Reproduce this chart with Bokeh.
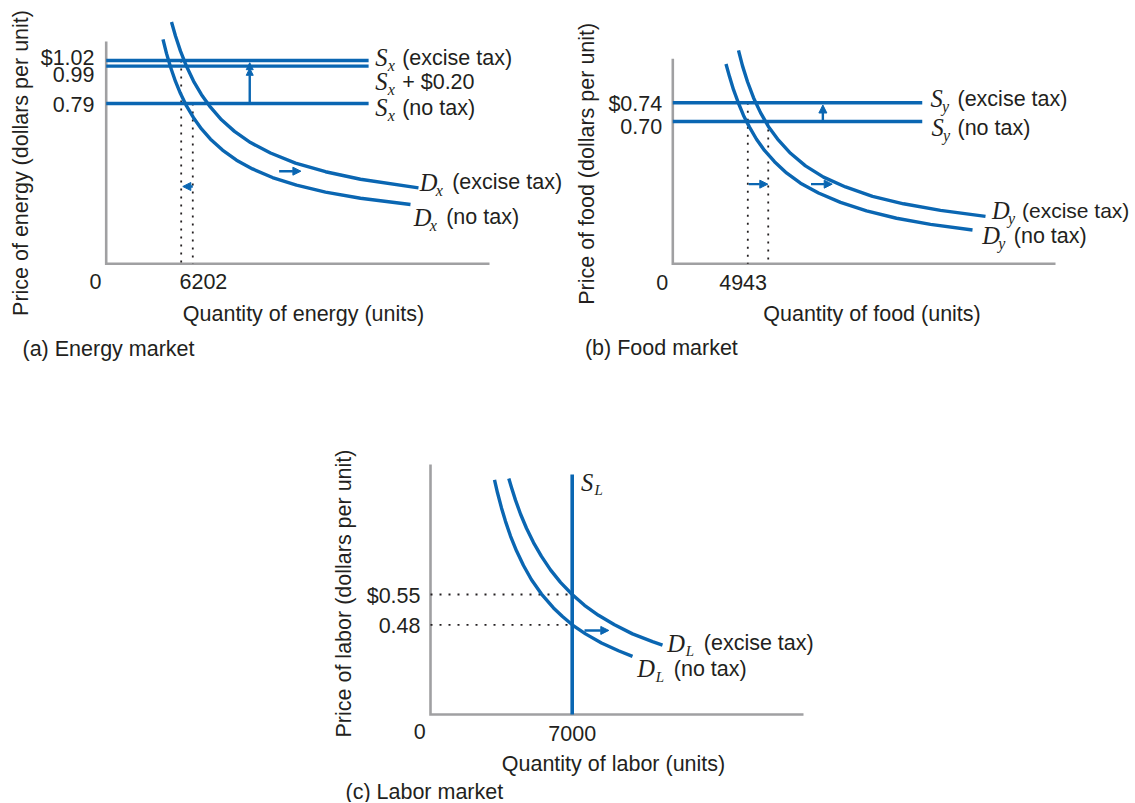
import math
from bokeh.plotting import figure
from bokeh.layouts import row, column
from bokeh.models import Range1d, Arrow, NormalHead, Spacer
from bokeh.core.properties import value
from bokeh.embed import file_html
from bokeh.resources import INLINE

# ------------------------------------------------------------------ data
# (a) Energy market
energy_prices = [1.02, 0.99, 0.79]                 # S_x (excise tax), S_x + $0.20, S_x (no tax)
energy_price_labels = ["$1.02", "0.99", "0.79"]
energy_supply_tags = ["(excise tax)", "+ $0.20", "(no tax)"]
energy_quantities = [6202, 7160]                   # labelled (tax) / unlabelled (no tax) quantity
energy_quantity_labels = ["0", "6202"]
energy_supply_end = 21700
energy_notax_q = [4697, 4986, 5317, 5730, 6144, 6640, 7219, 7880, 8625, 9617, 10775,
                  12097, 13751, 15736, 18134, 21028, 25163]
energy_notax_p = [1.133, 1.058, 0.985, 0.908, 0.843, 0.777, 0.714, 0.654, 0.599, 0.541, 0.487,
                  0.440, 0.394, 0.353, 0.316, 0.283, 0.250]
energy_tax_q = [5400, 5730, 6144, 6640, 7219, 7880, 8625, 9534, 10609, 11932, 13586,
                15653, 18134, 21028, 25824]
energy_tax_p = [1.226, 1.151, 1.070, 0.989, 0.910, 0.837, 0.770, 0.703, 0.641, 0.581, 0.525,
                0.471, 0.425, 0.385, 0.339]
energy_tax_arrow_q = 11870
energy_shift_arrow = (14300, 16100, 0.428)
energy_qty_arrow = (7160, 6334, 0.346)

# (b) Food market
food_prices = [0.74, 0.70]
food_price_labels = ["$0.74", "0.70"]
food_supply_tags = ["(excise tax)", "(no tax)"]
food_quantities = [4943, 6290]
food_quantity_labels = ["0", "4943"]
food_supply_end = 16440
food_notax_q = [3506, 3737, 4001, 4330, 4660, 5055, 5517, 6044, 6703, 7494, 8417, 9603,
                11053, 12767, 14744, 16985, 19753]
food_notax_p = [0.823, 0.796, 0.768, 0.739, 0.713, 0.688, 0.662, 0.638, 0.614, 0.590, 0.568,
                0.547, 0.527, 0.509, 0.493, 0.480, 0.468]
food_tax_q = [4330, 4594, 4924, 5319, 5780, 6308, 6967, 7758, 8746, 9933, 11383, 13162,
              15205, 17644, 20610]
food_tax_p = [0.852, 0.819, 0.785, 0.751, 0.719, 0.689, 0.660, 0.632, 0.605, 0.581, 0.560,
              0.540, 0.524, 0.510, 0.497]
food_tax_arrow_q = 9890
food_shift_arrows = [(5003, 6261, 0.566), (9109, 10506, 0.566)]

# (c) Labor market
labor_prices = [0.55, 0.48]
labor_price_labels = ["$0.55", "0.48"]
labor_quantity = 7000
labor_quantity_labels = ["0", "7000"]
labor_supply_top = 0.827
labor_notax_q = [3162, 3310, 3507, 3705, 3952, 4248, 4594, 4989, 5483, 6076, 6521, 7000,
                 7657, 8447, 9287, 9979]
labor_notax_p = [0.815, 0.785, 0.750, 0.719, 0.685, 0.651, 0.617, 0.584, 0.551, 0.519, 0.499,
                 0.480, 0.459, 0.438, 0.420, 0.407]
labor_tax_q = [3868, 4001, 4199, 4446, 4742, 5088, 5483, 5928, 6422, 7000, 7608, 8299, 9090,
               9979, 10967, 11461]
labor_tax_p = [0.818, 0.797, 0.768, 0.736, 0.703, 0.670, 0.638, 0.607, 0.578, 0.550, 0.525,
               0.502, 0.480, 0.459, 0.441, 0.433]
labor_shift_arrow = (7608, 8808, 0.467)

# ------------------------------------------------------------------ style
BLUE = "#0a66b2"
AXIS = "#a0a0a2"
INK = "#231f20"
SANS = "Liberation Sans"
SERIF = "Liberation Serif"
FS = 21.5


class Geo:
    """Maps page pixels of the layout to data units of one panel."""
    def __init__(s, fx, fy, w, h, ox, oy, q_ref, qx, p_lo, py_lo, p_hi, py_hi):
        s.fx, s.fy, s.w, s.h = fx, fy, w, h
        s.ox, s.oy = ox, oy
        s.sx = (qx - ox) / q_ref
        s.sy = (py_lo - py_hi) / (p_hi - p_lo)
        s.p_lo, s.py_lo = p_lo, py_lo

    def q(s, px):
        return (px - s.ox) / s.sx

    def p(s, py):
        return s.p_lo + (s.py_lo - py) / s.sy


def make_fig(g):
    return figure(width=g.w, height=g.h,
                  x_range=Range1d(g.q(g.fx), g.q(g.fx + g.w)),
                  y_range=Range1d(g.p(g.fy + g.h), g.p(g.fy)),
                  x_axis_type=None, y_axis_type=None, title=None,
                  output_backend="svg", toolbar_location=None, min_border=0,
                  outline_line_color=None, background_fill_color="white",
                  border_fill_color="white")


def axes(f, g, top_py, right_px):
    floor = g.p(g.oy)
    f.line([0, 0, g.q(right_px)], [g.p(top_py), floor, floor],
           line_color=AXIS, line_width=2.6, line_join="miter")
    return floor


def text(f, g, px, py, s, size=FS, font=SANS, style="normal", align="left", angle=0.0):
    f.text(x=[g.q(px)], y=[g.p(py)], text=[s], text_font=value(font),
           text_font_size=f"{size}px", text_font_style=style, text_align=align,
           text_baseline="middle", text_color=INK, angle=angle)


def sym(f, g, px, py, main, sub, rest, sub_dx, rest_dx, sub_size=16, rest_size=FS):
    text(f, g, px, py, main, size=24.5, font=SERIF, style="italic")
    text(f, g, px + sub_dx, py + 8, sub, size=sub_size, font=SERIF, style="italic")
    if rest:
        text(f, g, px + rest_dx, py, rest, size=rest_size)


def arrow(f, x0, y0, x1, y1, size=8):
    f.add_layout(Arrow(end=NormalHead(size=size, fill_color=BLUE, line_color=BLUE, line_width=1),
                       x_start=x0, y_start=y0, x_end=x1, y_end=y1,
                       line_color=BLUE, line_width=2.4))


def curve(f, qs, ps):
    f.line(qs, ps, line_color=BLUE, line_width=3.4, line_cap="butt", line_join="round")


def dotted(f, x0, y0, x1, y1, dash="2 6"):
    f.segment(x0=[x0], y0=[y0], x1=[x1], y1=[y1], line_color=INK, line_width=1.8,
              line_dash=dash)


# ------------------------------------------------------------------ (a) energy
ga = Geo(0, 0, 567, 370, 105.7, 263.3, energy_quantities[0], 180.7,
         energy_prices[2], 103.0, energy_prices[0], 60.0)
fa = make_fig(ga)
floor_a = axes(fa, ga, 41, 489)
dotted(fa, energy_quantities[0], energy_prices[0], energy_quantities[0], floor_a)
dotted(fa, energy_quantities[1], energy_prices[2], energy_quantities[1], floor_a)
fa.segment(x0=[0] * 3, y0=energy_prices, x1=[energy_supply_end] * 3, y1=energy_prices,
           line_color=BLUE, line_width=3.4)
curve(fa, energy_notax_q, energy_notax_p)
curve(fa, energy_tax_q, energy_tax_p)
gap_a = 2.2 / ga.sy
arrow(fa, energy_tax_arrow_q, energy_prices[2], energy_tax_arrow_q, energy_prices[1] - gap_a, 7)
arrow(fa, energy_tax_arrow_q, energy_prices[1], energy_tax_arrow_q, energy_prices[0] - gap_a, 7)
arrow(fa, energy_shift_arrow[0], energy_shift_arrow[2], energy_shift_arrow[1], energy_shift_arrow[2])
arrow(fa, energy_qty_arrow[0], energy_qty_arrow[2], energy_qty_arrow[1], energy_qty_arrow[2])

text(fa, ga, 20, 162.5, "Price of energy (dollars per unit)", align="center", angle=math.pi / 2)
text(fa, ga, 303, 313.5, "Quantity of energy (units)", align="center")
text(fa, ga, 22, 348.3, "(a) Energy market")
for lab, py in zip(energy_price_labels, [57.5, 74, 104]):
    text(fa, ga, 94, py, lab, align="right")
text(fa, ga, 95, 280.7, energy_quantity_labels[0], align="center")
text(fa, ga, 179, 281, energy_quantity_labels[1])
for tag, py in zip(energy_supply_tags, [57, 81, 107]):
    sym(fa, ga, 374.7, py, "S", "x", tag, 12.5, 27)
sym(fa, ga, 419.3, 181.7, "D", "x", "(excise tax)", 16, 32.4)
sym(fa, ga, 413.3, 216.7, "D", "x", "(no tax)", 16, 32.4)

# ------------------------------------------------------------------ (b) food
gb = Geo(567, 0, 567, 370, 672.3, 263.3, food_quantities[0], 747.3,
         food_prices[1], 121.0, food_prices[0], 102.3)
fb = make_fig(gb)
floor_b = axes(fb, gb, 58.3, 1055)
dotted(fb, food_quantities[0], food_prices[0], food_quantities[0], floor_b)
dotted(fb, food_quantities[1], food_prices[1], food_quantities[1], floor_b)
fb.segment(x0=[0] * 2, y0=food_prices, x1=[food_supply_end] * 2, y1=food_prices,
           line_color=BLUE, line_width=3.4)
curve(fb, food_notax_q, food_notax_p)
curve(fb, food_tax_q, food_tax_p)
gap_b = 2.2 / gb.sy
arrow(fb, food_tax_arrow_q, food_prices[1], food_tax_arrow_q, food_prices[0] - gap_b)
for q0, q1, pp in food_shift_arrows:
    arrow(fb, q0, pp, q1, pp)

text(fb, gb, 586.2, 163.3, "Price of food (dollars per unit)", align="center", angle=math.pi / 2)
text(fb, gb, 871.5, 313.3, "Quantity of food (units)", align="center")
text(fb, gb, 584.4, 347.7, "(b) Food market")
for lab, py in zip(food_price_labels, [103.5, 125.5]):
    text(fb, gb, 661.7, py, lab, align="right")
text(fb, gb, 661.7, 281.7, food_quantity_labels[0], align="center")
text(fb, gb, 742.6, 281.7, food_quantity_labels[1], align="center")
sym(fb, gb, 930, 98.3, "S", "y", food_supply_tags[0], 11.5, 27)
sym(fb, gb, 931, 127, "S", "y", food_supply_tags[1], 11.5, 26)
sym(fb, gb, 991.5, 210, "D", "y", "(excise tax)", 16, 30, rest_size=21)
sym(fb, gb, 981.7, 235, "D", "y", "(no tax)", 16, 31.6)

# ------------------------------------------------------------------ (c) labor
gc = Geo(320, 370, 520, 432, 430.0, 714.0, labor_quantity, 571.7,
         labor_prices[1], 624.3, labor_prices[0], 594.0)
fc = make_fig(gc)
floor_c = axes(fc, gc, 464, 803)
for pp in labor_prices:
    dotted(fc, 0, pp, labor_quantity, pp, dash="2 7")
fc.segment(x0=[labor_quantity], y0=[floor_c], x1=[labor_quantity], y1=[labor_supply_top],
           line_color=BLUE, line_width=3.6)
curve(fc, labor_notax_q, labor_notax_p)
curve(fc, labor_tax_q, labor_tax_p)
arrow(fc, labor_shift_arrow[0], labor_shift_arrow[2], labor_shift_arrow[1], labor_shift_arrow[2])

text(fc, gc, 343.3, 593, "Price of labor (dollars per unit)", align="center", angle=math.pi / 2)
text(fc, gc, 613, 763.3, "Quantity of labor (units)", align="center")
text(fc, gc, 345, 791, "(c) Labor market")
for lab, py in zip(labor_price_labels, [595, 625]):
    text(fc, gc, 420, py, lab, align="right")
text(fc, gc, 419.3, 731, labor_quantity_labels[0], align="center")
text(fc, gc, 571.7, 732.7, labor_quantity_labels[1], align="center")
sym(fc, gc, 580.5, 481.7, "S", "L", None, 13.5, 0, sub_size=15)
sym(fc, gc, 666.7, 642.7, "D", "L", "(excise tax)", 18.5, 36.6, sub_size=15)
sym(fc, gc, 636.7, 668.3, "D", "L", "(no tax)", 18.5, 36.6, sub_size=15)

layout = column(row(fa, fb), row(Spacer(width=320, height=432), fc))
open("out.html", "w").write(file_html(layout, INLINE, "Excise tax markets"))
